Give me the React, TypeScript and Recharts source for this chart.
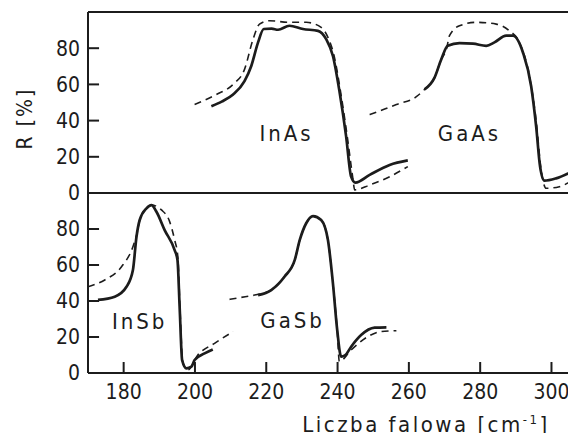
import { LineChart, Line, XAxis, YAxis, ReferenceLine, ReferenceDot } from "recharts";

const xTicks = [180, 200, 220, 240, 260, 280, 300];
const yTicks = [0, 20, 40, 60, 80];

// [liczba falowa, R %]
const inasSolid = [
  [204.6, 47.9], [207.5, 50.5], [210.7, 54.4], [213.9, 61.8], [215.8, 70.2], [217.7, 83.2],
  [219.3, 90.6], [221.5, 90.8], [223.3, 90.2], [226.5, 92.4], [230.3, 90.6], [234.5, 89.6],
  [236.8, 85], [238.7, 75.7], [240.6, 55.4], [242.4, 31.3], [243.8, 9.1], [245, 5.7],
  [249, 10], [254.6, 15.5], [259.7, 18],
];
const inasDashed = [
  [199.9, 48.9], [206, 54.4], [210.7, 60], [213.9, 68.3], [216.3, 85], [218.1, 93.3],
  [220.9, 95.2], [226.5, 94.3], [231.2, 94.3], [235.4, 91.5], [237.3, 86], [239, 76],
  [241, 54], [242.8, 30], [244.3, 8], [244.8, 1.7], [249, 4.4], [254.6, 9], [259.7, 14.6],
];
const gaasSolid = [
  [264.4, 57.2], [267.2, 63.7], [269.1, 73.9], [270.9, 81.3], [274.2, 82.8], [278, 82.5],
  [281.7, 81.3], [284, 83.2], [287.3, 86.9], [289.2, 86.9], [292, 77.6], [294.3, 59],
  [295.7, 36.8], [296.8, 14.6], [298, 6.8], [301.3, 8.1], [306.7, 12.8],
];
const gaasDashed = [
  [249, 43.3], [252.5, 45.8], [256.5, 48.9], [262.1, 53.2], [264.4, 57.2], [267.2, 63.7],
  [269.1, 73.9], [270.6, 80], [271.4, 86.9], [274.2, 92.4], [278.9, 94.3], [284.5, 93.3],
  [288.2, 89.6], [291, 83.2], [293.8, 64.7], [295.7, 40], [297.1, 12.8], [298.5, 2.6],
  [302.2, 3.5], [306.7, 8.1],
];
const insbSolid = [
  [172.8, 40.6], [177.5, 42.4], [180.8, 47.9], [182.6, 57.2], [183.6, 75.7], [184.5, 85],
  [186.4, 91.5], [187.8, 93.3], [189.2, 89.6], [191.5, 79.4], [194.3, 68.3], [195.1, 62.8],
  [195.7, 36.8], [196.4, 7.2], [197.6, 2.6], [199, 3.5], [199.9, 7.2], [202.7, 10.9], [205, 13.1],
];
const insbDashed = [
  [170, 47.9], [174.7, 51.7], [179.4, 59], [182.6, 70.2], [183.8, 78], [184.5, 85],
  [186.4, 91.5], [187.8, 93.3], [190.6, 90.6], [192.9, 84.1], [194.3, 73.9], [195.2, 64.6],
  [195.8, 36], [196.6, 6], [198, 1.7], [200.8, 10], [205.5, 16.5], [210.7, 23],
];
const gasbSolid = [
  [217.7, 43.3], [221.4, 46.1], [225.1, 53.5], [228, 62.8], [229.4, 73.9], [231.2, 83.2],
  [233.1, 87.2], [235.4, 85], [237.3, 73.9], [238.7, 49.8], [239.9, 23.9], [241, 9.1],
  [242.2, 10], [243.8, 14.6], [246.6, 21.1], [250.4, 25.2], [253.7, 25.4],
];
const gasbDashed = [
  [209.7, 40.9], [213, 42], [216.7, 43.3], [221.4, 46.1], [225.1, 53.5], [228, 62.8],
  [229.4, 73.9], [231.2, 83.2], [233.1, 87.2], [235.4, 85], [237.3, 73.9], [238.7, 49.8],
  [239.9, 23.9], [240.5, 6.4], [243.8, 12.8], [248.5, 20.2], [252.2, 23], [256.5, 23.5],
];

const topLabels = [
  { name: "InAs", x: 225.7, r: 32.8 },
  { name: "GaAs", x: 277, r: 32.8 },
];
const bottomLabels = [
  { name: "InSb", x: 184.5, r: 28.9 },
  { name: "GaSb", x: 227.4, r: 29.4 },
];

const FONT = '"DejaVu Sans Condensed", "DejaVu Sans", sans-serif';
const INK = "#1c1c1c";
const X_MIN = 170;
const X_MAX = 308;
// inward tick length in axis units (about 11 px)
const TICK_DX = 3.1;
const TICK_DY = 6.1;

const pts = (a: number[][]) => a.map(([x, r]) => ({ x, r }));

const tickStyle = { fill: INK, fontSize: 21, fontFamily: FONT };

function curves(solid: number[][], dashed: number[][], key: string) {
  return [
    <Line
      key={key + "-d"}
      data={pts(dashed)}
      dataKey="r"
      type="monotone"
      stroke={INK}
      strokeWidth={1.6}
      strokeDasharray="7 5"
      dot={false}
      isAnimationActive={false}
    />,
    <Line
      key={key + "-s"}
      data={pts(solid)}
      dataKey="r"
      type="monotone"
      stroke={INK}
      strokeWidth={2.7}
      dot={false}
      isAnimationActive={false}
    />,
  ];
}

function yTickMarks(key: string) {
  return yTicks.map((v) => (
    <ReferenceLine
      key={key + v}
      segment={[{ x: X_MIN, y: v }, { x: X_MIN + TICK_DX, y: v }]}
      stroke={INK}
      strokeWidth={2}
      ifOverflow="visible"
    />
  ));
}

function panelLabels(list: { name: string; x: number; r: number }[]) {
  return list.map((l) => (
    <ReferenceDot
      key={l.name}
      x={l.x}
      y={l.r}
      r={0}
      ifOverflow="visible"
      label={{
        value: l.name,
        position: "center",
        fill: INK,
        fontSize: 22,
        fontFamily: FONT,
        letterSpacing: 3,
      }}
    />
  ));
}

export default function App() {
  return (
    <div
      style={{
        margin: -8,
        width: 576,
        height: 441,
        overflow: "hidden",
        position: "relative",
        background: "#fff",
      }}
    >
      <div style={{ position: "absolute", left: 0, top: 0 }}>
        <LineChart width={580} height={441} margin={{ top: 193, right: 0, bottom: 0, left: 0 }}>
          <XAxis
            type="number"
            dataKey="x"
            domain={[X_MIN, X_MAX]}
            ticks={xTicks}
            allowDataOverflow
            height={68}
            tickSize={0}
            tickMargin={11}
            tickLine={false}
            tick={tickStyle}
            stroke={INK}
            strokeWidth={2}
            label={{
              content: (p: any) => {
                const vb = p.viewBox;
                return (
                  <text
                    x={vb.x + vb.width / 2 + 92}
                    y={vb.y + 59}
                    textAnchor="middle"
                    fill={INK}
                    fontSize={22}
                    fontFamily={FONT}
                    letterSpacing={2.5}
                  >
                    Liczba falowa [cm
                    <tspan dy={-8} fontSize={13}>-1</tspan>
                    <tspan dy={8}>]</tspan>
                  </text>
                );
              },
            }}
          />
          <YAxis
            type="number"
            domain={[0, 100]}
            ticks={yTicks}
            allowDataOverflow
            width={88}
            tickSize={0}
            tickMargin={8}
            tickLine={false}
            tick={tickStyle}
            stroke={INK}
            strokeWidth={2}
          />
          <ReferenceLine y={100} stroke={INK} strokeWidth={2} />
          {yTickMarks("b")}
          {xTicks.map((v) => (
            <ReferenceLine
              key={"xt" + v}
              segment={[{ x: v, y: 0 }, { x: v, y: TICK_DY }]}
              stroke={INK}
              strokeWidth={2}
              ifOverflow="visible"
            />
          ))}
          {curves(insbSolid, insbDashed, "insb")}
          {curves(gasbSolid, gasbDashed, "gasb")}
          {panelLabels(bottomLabels)}
        </LineChart>
      </div>
      <div style={{ position: "absolute", left: 0, top: 0 }}>
        <LineChart width={580} height={210} margin={{ top: 12, right: 0, bottom: 17, left: 0 }}>
          <XAxis
            type="number"
            dataKey="x"
            domain={[X_MIN, X_MAX]}
            allowDataOverflow
            height={0}
            tick={false}
            tickLine={false}
            stroke={INK}
            strokeWidth={2}
          />
          <YAxis
            type="number"
            domain={[0, 100]}
            ticks={yTicks}
            allowDataOverflow
            width={88}
            tickSize={0}
            tickMargin={8}
            tickLine={false}
            tick={tickStyle}
            stroke={INK}
            strokeWidth={2}
            label={{
              content: (p: any) => {
                const vb = p.viewBox;
                const cx = vb.x + 25;
                const cy = vb.y + vb.height / 2 + 16;
                return (
                  <text
                    x={cx}
                    y={cy}
                    transform={`rotate(-90 ${cx} ${cy})`}
                    textAnchor="middle"
                    dominantBaseline="central"
                    fill={INK}
                    fontSize={21}
                    fontFamily={FONT}
                    letterSpacing={2}
                  >
                    R [%]
                  </text>
                );
              },
            }}
          />
          <ReferenceLine y={100} stroke={INK} strokeWidth={2} />
          {yTickMarks("t")}
          {curves(inasSolid, inasDashed, "inas")}
          {curves(gaasSolid, gaasDashed, "gaas")}
          {panelLabels(topLabels)}
        </LineChart>
      </div>
    </div>
  );
}
